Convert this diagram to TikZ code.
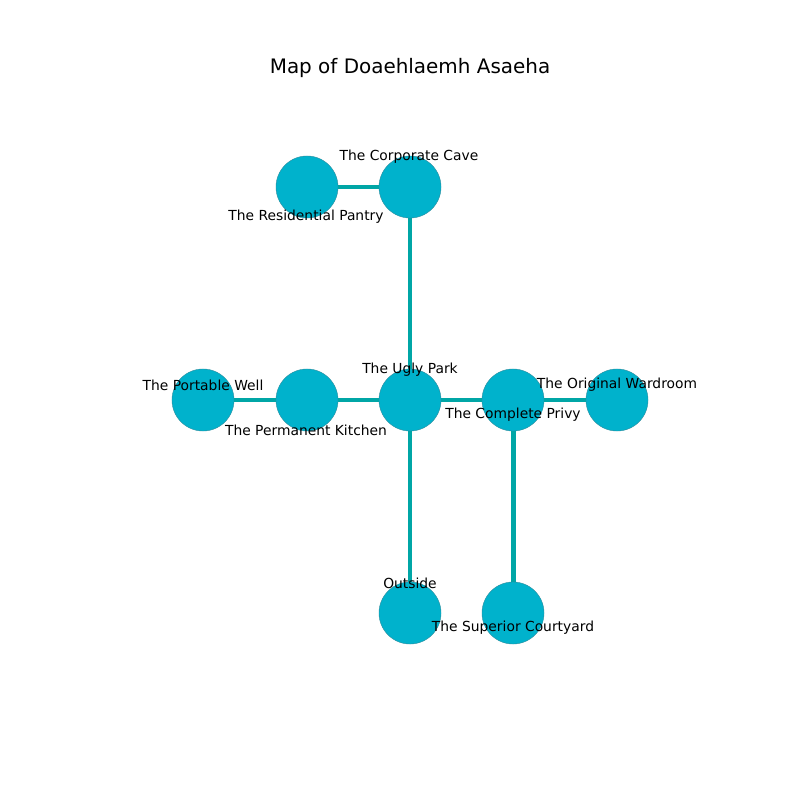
\documentclass[tikz,border=0pt]{standalone}
\usepackage{fontspec}
\setmainfont{DejaVu Sans}
\usepackage{xcolor}
\usetikzlibrary{positioning,backgrounds}
\definecolor{roomfill}{HTML}{00B2CC}
\definecolor{roomedge}{HTML}{2F8C9C}
\definecolor{pathcol}{HTML}{00A6A6}

\begin{document}
\begin{tikzpicture}[x=0.01in, y=-0.01in,
		room/.style={circle, fill=roomfill, draw=roomedge, line width=0.3pt, minimum size=0.62in, inner sep=0pt},
		passage/.style={line width=3.6pt, pathcol},
		lbl/.style={font=\fontsize{10}{12}\selectfont, inner sep=0pt}]
			\useasboundingbox (0,0) rectangle (800,800);
			\node[font=\fontsize{14.4}{17}\selectfont, inner sep=0pt] (title) at (410,68) {Map of Doaehlaemh Asaeha};
			% rooms
			\node[room] (pantry) at (307,187) {};
			\node[room] (cave) at (410,187) {};
			\node[room] (well) at (203,400) {};
			\node[room] (kitchen) at (307,400) {};
			\node[room] (park) at (410,400) {};
			\node[room] (privy) at (513,400) {};
			\node[room] (wardroom) at (617,400) {};
			\node[room] (outside) at (410,613) {};
			\node[room] (courtyard) at (513,613) {};
			\begin{scope}[on background layer]
				\draw[passage] (pantry) -- (cave);
				\draw[passage] (cave) -- (park);
				\draw[passage] (well) -- (kitchen);
				\draw[passage] (kitchen) -- (park);
				\draw[passage] (park) -- (privy);
				\draw[passage] (privy) -- (wardroom);
				\draw[passage] (park) -- (outside);
				\draw[passage] (privy) -- (courtyard);
			\end{scope}
			% labels
			\node[lbl] (l-cave) at (409,157) {The Corporate Cave};
			\node[lbl] (l-pantry) at (306,217) {The Residential Pantry};
			\node[lbl] (l-well) at (203,385) {The Portable Well};
			\node[lbl] (l-kitchen) at (306,430) {The Permanent Kitchen};
			\node[lbl] (l-park) at (410,370) {The Ugly Park};
			\node[lbl] (l-privy) at (513,415) {The Complete Privy};
			\node[lbl] (l-wardroom) at (617,385) {The Original Wardroom};
			\node[lbl] (l-outside) at (410,583) {Outside};
			\node[lbl] (l-courtyard) at (513,628) {The Superior Courtyard};
		\end{tikzpicture}
\end{document}
